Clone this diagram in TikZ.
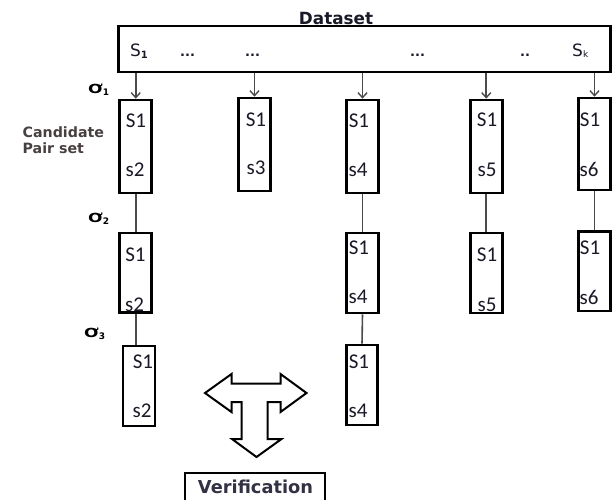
\documentclass[tikz,border=0pt]{standalone}
\usepackage{fontspec}
\usepackage{graphicx}
\setmainfont{Carlito}
\newfontfamily\lab{DejaVu Sans}
\usetikzlibrary{arrows.meta}
\definecolor{txt}{RGB}{25,25,40}
\definecolor{labc}{RGB}{72,64,64}
\definecolor{vcol}{RGB}{50,50,68}
\definecolor{conn}{RGB}{75,75,75}
\newcommand\olab[1]{{\lab\bfseries\scalebox{1.35}[1]{\fontsize{12.5}{12.5}\selectfont Ơ}\raisebox{-2.5pt}{\fontsize{9}{9}\selectfont #1}}}
\tikzset{
  pairbox/.style={draw=black, line width=2.6pt, minimum width=32pt, inner sep=0pt},
  pairtxt/.style={font=\fontsize{21}{21}\selectfont, text=txt, inner sep=0pt},
  dstxt/.style={font=\lab\fontsize{17}{17}\selectfont, text=txt, inner sep=0pt, anchor=base west},
  dots/.style={font=\lab\bfseries\fontsize{13}{13}\selectfont, text=txt, inner sep=0pt, anchor=base west},
  link/.style={draw=conn, line width=1.6pt},
  feed/.style={link, -{Straight Barb[length=5pt,width=9pt,line width=1.4pt]}},
  olabel/.style={inner sep=0pt, anchor=base west, text=black}
}
\begin{document}
\begin{tikzpicture}[x=1pt,y=-1pt]
\clip (0,0) rectangle (612,499);
\fill[white] (0,0) rectangle (612,499);

% dataset
\node[draw=black, line width=2.4pt, minimum width=492pt, minimum height=46pt, inner sep=0pt] (ds) at (364.5,49) {};
\node[inner sep=0pt, anchor=base, font=\lab\bfseries\fontsize{16.8}{16.8}\selectfont, text=txt] (dslab) at (336,24) {Dataset};
\node[dstxt] (s1) at (130,56) {S\raisebox{-2.5pt}{\fontsize{10}{10}\selectfont\bfseries 1}};
\node[dots] (d1) at (180,56) {...};
\node[dots] (d2) at (245,56) {...};
\node[dots] (d3) at (410,56) {...};
\node[dots] (d4) at (520,56) {..};
\node[dstxt] (sk) at (572,56) {S\raisebox{-1.5pt}{\fontsize{9}{9}\selectfont k}};

% row 1
\node[pairbox, minimum height=93pt] (b11) at (135.75,146.5) {};
\node[pairbox, minimum height=93pt] (b12) at (254.5,144.5) {};
\node[pairbox, minimum height=93pt] (b13) at (362.5,146.5) {};
\node[pairbox, minimum height=93pt] (b14) at (486.25,146.5) {};
\node[pairbox, minimum height=92pt] (b15) at (594.5,144) {};
% row 2
\node[pairbox, minimum height=79.5pt] (b21) at (135.75,272.75) {};
\node[pairbox, minimum height=80pt] (b23) at (362.5,273) {};
\node[pairbox, minimum height=80pt] (b24) at (486.25,273) {};
\node[pairbox, minimum height=79.5pt] (b25) at (594.5,271.25) {};
% row 3
\node[pairbox, minimum height=80pt] (b31) at (139,386) {};
\node[pairbox, minimum height=80pt, minimum width=31pt] (b33) at (362,385) {};

% texts
\node[pairtxt] (t11a) at (136,121) {S1};
\node[pairtxt] (t11b) at (135,170) {s2};
\node[pairtxt] (t12a) at (256,120) {S1};
\node[pairtxt] (t12b) at (256,168) {s3};
\node[pairtxt] (t13a) at (359,121) {S1};
\node[pairtxt] (t13b) at (358,170) {s4};
\node[pairtxt] (t14a) at (487,120) {S1};
\node[pairtxt] (t14b) at (487,170) {s5};
\node[pairtxt] (t15a) at (590,120) {S1};
\node[pairtxt] (t15b) at (589,169) {s6};

\node[pairtxt] (t21a) at (135.5,255) {S1};
\node[pairtxt] (t21b) at (134.5,305) {s2};
\node[pairtxt] (t23a) at (359,248) {S1};
\node[pairtxt] (t23b) at (358,297) {s4};
\node[pairtxt] (t24a) at (487,255) {S1};
\node[pairtxt] (t24b) at (487,305) {s5};
\node[pairtxt] (t25a) at (590,248) {S1};
\node[pairtxt] (t25b) at (589,297) {s6};

\node[pairtxt] (t31a) at (143,362) {S1};
\node[pairtxt] (t31b) at (142,411) {s2};
\node[pairtxt] (t33a) at (359,362) {S1};
\node[pairtxt] (t33b) at (358,411) {s4};

% feeds from dataset
\draw[feed] (ds.south -| b11.north) -- (b11.north);
\draw[feed] (ds.south -| b12.north) -- (b12.north);
\draw[feed] (ds.south -| b13.north) -- (b13.north);
\draw[feed] (ds.south -| b14.north) -- (b14.north);
\draw[feed] (ds.south -| b15.north) -- (b15.north);

% links between rows
\draw[link] (b11.south) -- (b21.north);
\draw[link] (b13.south) -- (b23.north);
\draw[link] (b14.south) -- (b24.north);
\draw[link] (b15.south) -- (b25.north);
\draw[link] (b21.south) -- (b31.north -| b21.south);
\draw[link] (b23.south) -- (b33.north);

% labels
\node[olabel] (o1) at (88,93) {\olab{1}};
\node[olabel] (o2) at (88,222) {\olab{2}};
\node[olabel] (o3) at (84,337) {\olab{3}};
\node[inner sep=0pt, anchor=base west, font=\lab\bfseries\fontsize{14.2}{14.2}\selectfont, text=labc] (cand1) at (22.5,137) {Candidate};
\node[inner sep=0pt, anchor=base west, font=\lab\bfseries\fontsize{14.2}{14.2}\selectfont, text=labc] (cand2) at (22.5,153) {Pair set};

% T arrow
\draw[line width=2pt, fill=white, line join=miter]
  (205,393) -- (231.5,374) -- (231.5,383.5) -- (280.5,383.5) -- (280.5,374) -- (306.5,393)
  -- (280.5,412) -- (280.5,402) -- (267.5,402) -- (267.5,439) -- (281.5,439) -- (256.5,457)
  -- (232,439) -- (241.5,439) -- (241.5,402) -- (231.5,402) -- (231.5,412) -- cycle;

% verification
\node[draw=black, line width=2pt, minimum width=140pt, minimum height=50pt, anchor=north, inner sep=0pt] (verbox) at (255,472) {};
\node[inner sep=0pt, anchor=base, font=\lab\bfseries\fontsize{17.8}{17.8}\selectfont, text=vcol] (vertxt) at (255.5,493) {Verification};
\end{tikzpicture}
\end{document}
